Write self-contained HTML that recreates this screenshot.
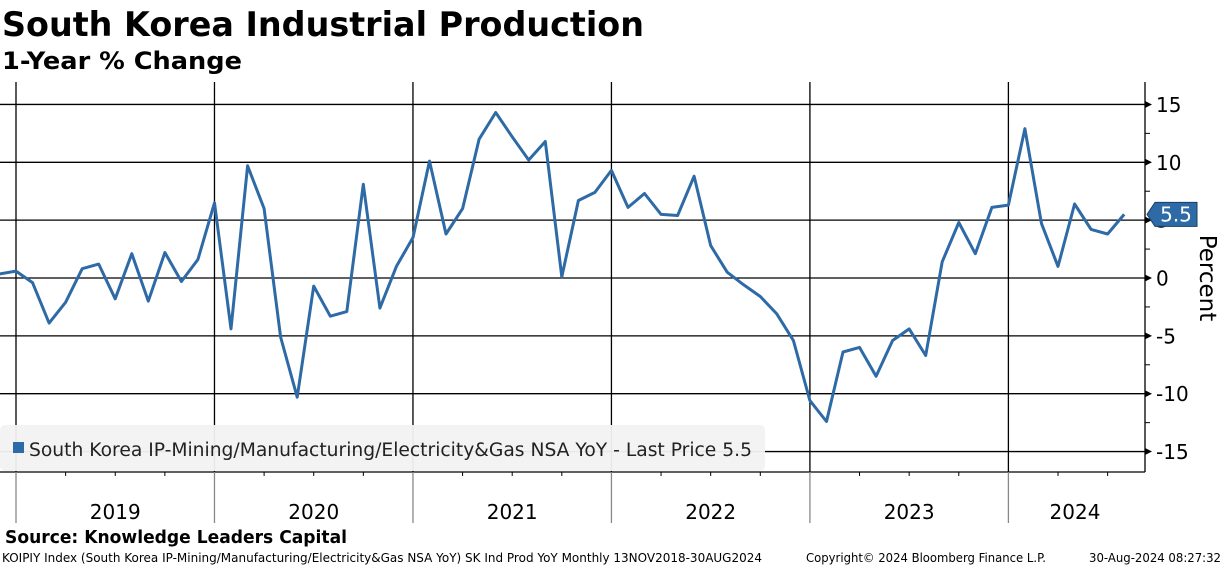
<!DOCTYPE html>
<html><head><meta charset="utf-8"><style>
body{margin:0;background:#fff;width:1224px;height:566px;overflow:hidden;font-family:"DejaVu Sans","Liberation Sans",sans-serif}
</style></head><body>
<svg width="1224" height="566" xmlns="http://www.w3.org/2000/svg">
<text x="2" y="36" font-size="34" font-weight="bold" textLength="642" lengthAdjust="spacingAndGlyphs">South Korea Industrial Production</text>
<text x="2" y="69" font-size="24" font-weight="bold" textLength="240" lengthAdjust="spacingAndGlyphs">1-Year % Change</text>
<g id="grid"></g>
<g id="axis"></g>
<g id="xaxis"></g>
<path id="line" fill="none" stroke="#2e6aa6" stroke-width="3" stroke-linejoin="round"/>
<g>
<rect x="0" y="425" width="765" height="46" rx="5" fill="#f2f2f2" opacity="0.95"/>
<rect x="13" y="442" width="11" height="11" fill="#2e6aa6"/>
<text x="29" y="456" font-size="18.5" fill="#222" textLength="723" lengthAdjust="spacingAndGlyphs">South Korea IP-Mining/Manufacturing/Electricity&amp;Gas NSA YoY - Last Price 5.5</text>
</g>
<g id="lastlabel"></g>
<text transform="translate(1200,278) rotate(90)" text-anchor="middle" font-size="23">Percent</text>
<text x="5" y="543" font-size="18" font-weight="bold" textLength="342" lengthAdjust="spacingAndGlyphs">Source: Knowledge Leaders Capital</text>
<text x="2" y="562" font-size="12" textLength="760" lengthAdjust="spacingAndGlyphs">KOIPIY Index (South Korea IP-Mining/Manufacturing/Electricity&amp;Gas NSA YoY) SK Ind Prod YoY  Monthly 13NOV2018-30AUG2024</text>
<text x="806" y="562" font-size="12" textLength="240" lengthAdjust="spacingAndGlyphs">Copyright© 2024 Bloomberg Finance L.P.</text>
<text x="1089" y="562" font-size="12" textLength="132" lengthAdjust="spacingAndGlyphs">30-Aug-2024 08:27:32</text>
</svg>
<script>
const startYear = 2018, startMonth = 11; // Dec 2018 (0-based month)
const values = [0.35,
0.6,-0.4,-3.9,-2.1,0.8,1.2,-1.8,2.1,-2.0,2.2,-0.3,1.6,
6.5,-4.4,9.7,6.0,-5.1,-10.3,-0.7,-3.3,-2.9,8.1,-2.6,1.0,
3.5,10.1,3.8,6.0,12.0,14.3,12.2,10.2,11.8,0.1,6.7,7.4,
9.3,6.1,7.3,5.5,5.4,8.8,2.8,0.5,-0.6,-1.6,-3.1,-5.4,
-10.6,-12.4,-6.4,-6.0,-8.5,-5.4,-4.4,-6.7,1.4,4.8,2.1,6.1,
6.3,12.9,4.7,1.0,6.4,4.2,3.8,5.5];
const yTicks = [15,10,5,0,-5,-10,-15];
const years = [2019,2020,2021,2022,2023,2024];
const lastLabel = "5.5";
const NS="http://www.w3.org/2000/svg";
const X0=16, MW=16.54, TOP=82, BOT=472, RIGHT=1145;
function xm(i){return X0+(i-1)*MW;}
function xy(year,m){return X0+((year-2019)*12+m)*MW;}
function y(v){return 278-v*11.57;}
function mk(tag,attrs,parent){const e=document.createElementNS(NS,tag);for(const k in attrs)e.setAttribute(k,attrs[k]);document.getElementById(parent).appendChild(e);return e;}
yTicks.forEach(t=>{
  const l=mk('line',{x1:0,x2:RIGHT,y1:y(t),y2:y(t),stroke:'#000','stroke-width':1.3},'grid');
  
  
  mk('path',{d:`M${RIGHT} ${y(t)-3.5}L${RIGHT+7} ${y(t)}L${RIGHT} ${y(t)+3.5}Z`,fill:'#000'},'axis');
  const tx=mk('text',{x:RIGHT+11,y:y(t)+7.5,'font-size':20},'axis');
  tx.textContent=(t<0?'-':'')+Math.abs(t);
  
  
});
for(let t=-12.5;t<=12.5;t+=5){mk('line',{x1:RIGHT,x2:RIGHT+5,y1:y(t),y2:y(t),stroke:'#000'},'axis');}
mk('line',{x1:RIGHT,x2:RIGHT,y1:TOP,y2:BOT,stroke:'#000','stroke-width':1.3},'axis');
mk('line',{x1:0,x2:RIGHT,y1:BOT,y2:BOT,stroke:'#000','stroke-width':1.3},'xaxis');
years.forEach(yr=>{
  const x=xy(yr,0);
  const g=mk('line',{x1:x,x2:x,y1:TOP,y2:BOT,stroke:'#000','stroke-width':1.3},'grid');
  
  
  mk('line',{x1:x,x2:x,y1:BOT,y2:523,stroke:'#888','stroke-width':1.3},'xaxis');
  [3,6,9].forEach(q=>{const qx=xy(yr,q);if(qx<RIGHT)mk('line',{x1:qx,x2:qx,y1:BOT,y2:BOT+4,stroke:'#000'},'xaxis');});
  const nx=Math.min(xy(yr+1,0),RIGHT);
  const tx=mk('text',{x:yr===2024?1075:(x+nx)/2,y:519,'font-size':20,'text-anchor':'middle'},'xaxis');
  tx.textContent=yr;
  
  
});
document.getElementById('line').setAttribute('d',values.map((v,i)=>(i?'L':'M')+xm(i).toFixed(1)+' '+y(v).toFixed(1)).join(''));
const lv=values[values.length-1], ly=y(lv);
mk('path',{d:`M${RIGHT+2} ${ly}L${RIGHT+10} ${ly-12}L${RIGHT+52} ${ly-12}L${RIGHT+52} ${ly+12}L${RIGHT+10} ${ly+12}Z`,fill:'#2e6aa6',stroke:'#1a3f66'},'lastlabel');
const lt=mk('text',{x:RIGHT+31,y:ly+7,'font-size':20,fill:'#fff','text-anchor':'middle'},'lastlabel');
lt.textContent=lastLabel;
</script>
</body></html>
